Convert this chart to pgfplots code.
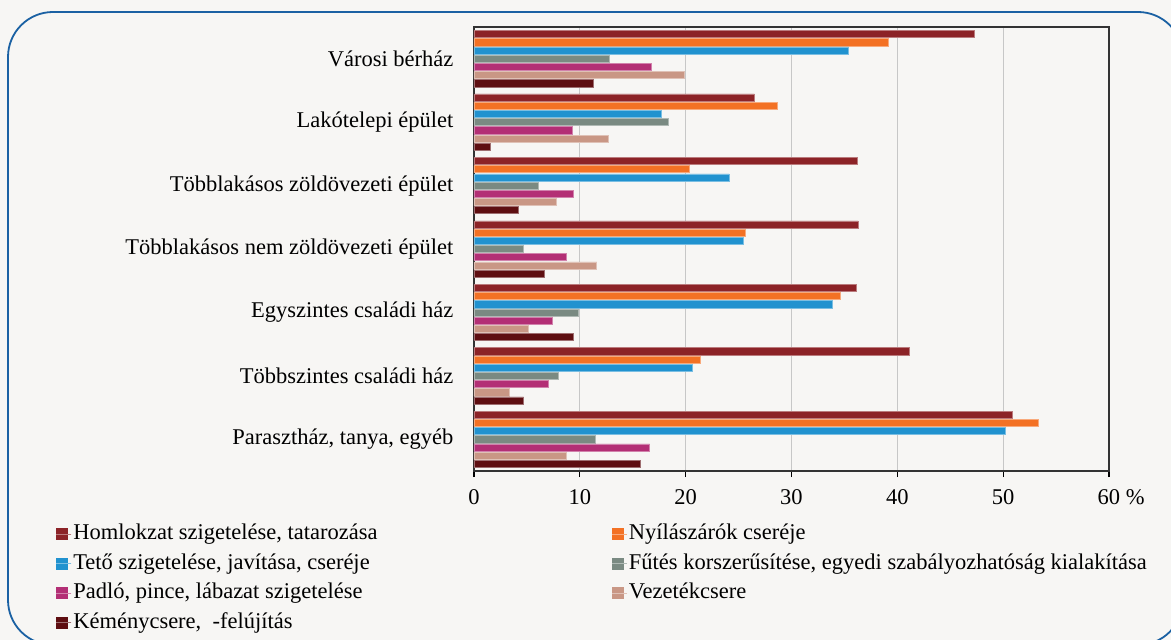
\documentclass[border=0pt]{standalone}
\usepackage{pgfplots}
\pgfplotsset{compat=1.18}
\usepackage{fontspec}
\setmainfont{Liberation Serif}
\definecolor{bg}{HTML}{F7F6F4}
\definecolor{frame}{HTML}{1B61A3}
\definecolor{c1}{HTML}{8C2327}
\definecolor{c2}{HTML}{F37124}
\definecolor{c3}{HTML}{2192CF}
\definecolor{c4}{HTML}{7A8A82}
\definecolor{c5}{HTML}{B32F75}
\definecolor{c6}{HTML}{C99785}
\definecolor{c7}{HTML}{5E0E11}
\newcommand\fs{\fontsize{22.5}{27}\selectfont}
\begin{document}
\begin{tikzpicture}[font=\fs]
\path[use as bounding box] (0,0) rectangle (1171pt,640pt);
\fill[bg] (0,0) rectangle (1171pt,640pt);
\begin{scope}
\clip (0,0) rectangle (1171pt,640pt);
\draw[frame, line width=1.8pt, rounded corners=45pt] (8pt,-5pt) rectangle (1183pt,628pt);
\end{scope}
\begin{axis}[
  at={(474pt,169pt)}, anchor=south west,
  width=635pt, height=444pt, scale only axis,
  xmin=0, xmax=60, ymin=-0.5, ymax=6.5, y dir=reverse,
  xbar, bar width=0.112,
  /pgf/number format/assume math mode=true,
  xtick={0,10,...,60},
  xticklabels={0,10,20,30,40,50,60\rlap{ \%}},
  xtick pos=bottom, tick align=outside,
  x tick style={black, line width=1.2pt},
  major tick length=6pt,
  xticklabel style={yshift=-9pt},
  ytick={0,...,6},
  yticklabels={Városi bérház, Lakótelepi épület, Többlakásos zöldövezeti épület, Többlakásos nem zöldövezeti épület, Egyszintes családi ház, Többszintes családi ház, {Parasztház, tanya, egyéb}},
  y tick style={draw=none},
  yticklabel style={anchor=east, xshift=-11pt},
  xmajorgrids, grid style={color=black!22, line width=1.3pt},
  axis line style={black!80, line width=1.3pt},
  legend columns=2,
  legend cell align=left,
  legend style={at={(-0.6583,-0.115)}, anchor=north west, draw=none, fill=none,
    inner sep=0pt, column sep=0pt, row sep=5.5pt,
    nodes={inner sep=1.5pt, text height=16pt, text depth=5pt}},
  legend image code/.code={\fill[#1, draw=none] (0pt,-6pt) rectangle (12pt,6pt); \path (0pt,0pt) -- (15pt,0pt);},
]
\addplot[fill=c1, draw=c1!60!white, line width=0.6pt, bar shift=-0.388] coordinates {(47.3,0) (26.5,1) (36.2,2) (36.3,3) (36.1,4) (41.1,5) (50.9,6)};
\addplot[fill=c2, draw=c2!60!white, line width=0.6pt, bar shift=-0.259] coordinates {(39.1,0) (28.7,1) (20.3,2) (25.6,3) (34.6,4) (21.4,5) (53.3,6)};
\addplot[fill=c3, draw=c3!60!white, line width=0.6pt, bar shift=-0.129] coordinates {(35.4,0) (17.7,1) (24.1,2) (25.4,3) (33.9,4) (20.6,5) (50.2,6)};
\addplot[fill=c4, draw=c4!60!white, line width=0.6pt, bar shift=0] coordinates {(12.8,0) (18.4,1) (6.1,2) (4.7,3) (9.9,4) (8.0,5) (11.5,6)};
\addplot[fill=c5, draw=c5!60!white, line width=0.6pt, bar shift=0.129] coordinates {(16.8,0) (9.3,1) (9.4,2) (8.7,3) (7.4,4) (7.0,5) (16.6,6)};
\addplot[fill=c6, draw=c6!60!white, line width=0.6pt, bar shift=0.259] coordinates {(19.9,0) (12.7,1) (7.8,2) (11.6,3) (5.1,4) (3.3,5) (8.7,6)};
\addplot[fill=c7, draw=c7!60!white, line width=0.6pt, bar shift=0.388] coordinates {(11.3,0) (1.55,1) (4.2,2) (6.6,3) (9.4,4) (4.7,5) (15.7,6)};
\addlegendentry{\makebox[537pt][l]{Homlokzat szigetelése, tatarozása}}
\addlegendentry{Nyílászárók cseréje}
\addlegendentry{\makebox[537pt][l]{Tető szigetelése, javítása, cseréje}}
\addlegendentry{Fűtés korszerűsítése, egyedi szabályozhatóság kialakítása}
\addlegendentry{\makebox[537pt][l]{Padló, pince, lábazat szigetelése}}
\addlegendentry{Vezetékcsere}
\addlegendentry{\makebox[537pt][l]{Kéménycsere, \ -felújítás}}
\end{axis}
\end{tikzpicture}
\end{document}
